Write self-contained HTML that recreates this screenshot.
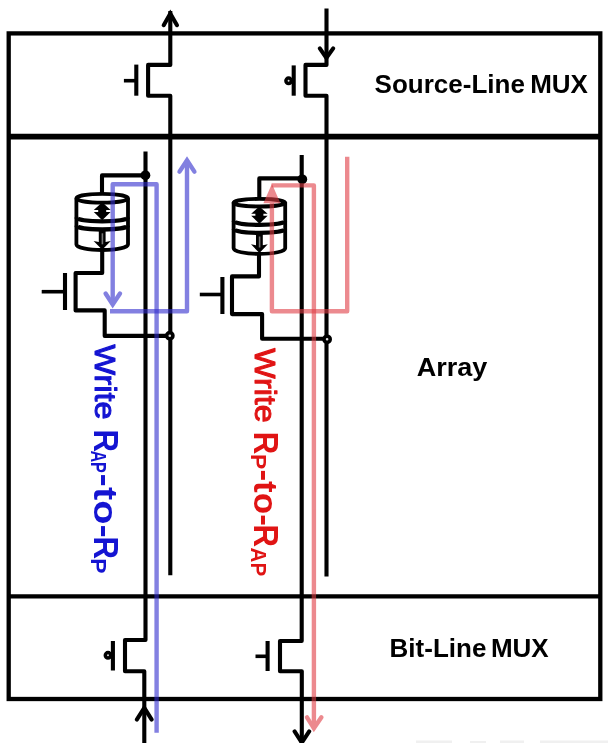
<!DOCTYPE html>
<html>
<head>
<meta charset="utf-8">
<title>STT-MRAM write paths</title>
<style>
  html, body { margin: 0; padding: 0; background: #ffffff; }
  body { width: 608px; height: 743px; overflow: hidden; }
  svg { display: block; filter: blur(0.3px); }
  text { font-family: "Liberation Sans", sans-serif; }
  .k { stroke: #000; fill: none; stroke-width: 4.1; stroke-linecap: butt; stroke-linejoin: round; }
  .b { stroke: rgb(48,44,205); fill: none; stroke-width: 4.4; stroke-linejoin: round; }
  .r { stroke: rgb(224,60,68); fill: none; stroke-width: 4.4; stroke-linejoin: round; }
  .lbl { font-weight: bold; font-size: 26px; fill: #000; }
  #mtj-left .k, #mtj-right .k { stroke-width: 3.8; }
</style>
</head>
<body>
<svg width="608" height="743" viewBox="0 0 608 743">
  <rect x="0" y="0" width="608" height="743" fill="#ffffff"/>

  <!-- ===== outer frame and section dividers ===== -->
  <g id="frame">
    <rect class="k" x="8.7" y="33.4" width="591.6" height="665.6" style="stroke-width:4.3;stroke-linejoin:miter"/>
    <line class="k" x1="8.7" y1="136.6" x2="600.3" y2="136.6" style="stroke-width:5.8"/>
    <line class="k" x1="8.7" y1="596.45" x2="600.3" y2="596.45" style="stroke-width:4.3"/>
  </g>

  <!-- ===== Source-line MUX : left NMOS ===== -->
  <g id="sl-mux-left">
    <path class="k" d="M170.3 11 V64.9 H148.1 V95.7 H170.3 V575.2"/>
    <path class="k" d="M163.7 25.2 L170.3 13.6 L177 25.2" style="stroke-linejoin:miter;stroke-linecap:round"/>
    <line class="k" x1="136.3" y1="64.6" x2="136.3" y2="95.7"/>
    <line class="k" x1="123.9" y1="80.7" x2="136.3" y2="80.7" style="stroke-width:3.6"/>
  </g>

  <!-- ===== Source-line MUX : right PMOS ===== -->
  <g id="sl-mux-right">
    <path class="k" d="M326.5 8.6 V64.9 H305.5 V95.7 H326.5 V576.4"/>
    <path class="k" d="M319.8 48.4 L326.4 58 L333.2 48.4" style="stroke-linejoin:miter;stroke-linecap:round"/>
    <line class="k" x1="293.7" y1="65.4" x2="293.7" y2="95.7"/>
    <circle cx="288.6" cy="80.8" r="2.7" fill="#ddd" stroke="#000" stroke-width="3.5"/>
  </g>

  <!-- ===== Left cell ===== -->
  <g id="cell-left">
    <!-- bit line -->
    <path class="k" d="M145.5 151.4 V640 H125 V671.3 H144.3 V743"/>
    <circle cx="145.4" cy="175.3" r="4.9" fill="#000"/>
    <path class="k" d="M145.5 175.4 H102 V194"/>
    <!-- MTJ -->
    <g id="mtj-left" transform="translate(102.2,198.3)">
      <ellipse class="k" cx="0" cy="0" rx="25.8" ry="4.4"/>
      <path class="k" d="M-25.8 0 V46.1 A25.8 5.6 0 0 0 25.8 46.1 V0"/>
      <path class="k" d="M-25.6 19.3 A25.6 3.8 0 0 0 25.6 19.3" style="stroke-width:4.3"/>
      <path class="k" d="M-25.6 27.4 A25.6 3.8 0 0 0 25.6 27.4" style="stroke-width:4.3"/>
      <!-- double arrow -->
      <path d="M0 4 L8.4 11.6 L4 11.6 L4 13.6 L8.4 13.6 L0 22 L-8.4 13.6 L-4 13.6 L-4 11.6 L-8.4 11.6 Z" fill="#000"/>
      <!-- down arrow -->
      <path d="M-3.4 32 H3.4 V43.6 L8.6 42.6 L0 51.5 L-8.6 42.6 L-3.4 43.6 Z" fill="#000"/>
      <line x1="0.2" y1="35" x2="0.2" y2="46" stroke="#777" stroke-width="1.6"/>
    </g>
    <!-- access transistor -->
    <path class="k" d="M102.2 250 V273 H75.6 V310.4 H104.7 V335.9 H166.5"/>
    <line class="k" x1="65" y1="273" x2="65" y2="310"/>
    <line class="k" x1="41.7" y1="291.7" x2="65" y2="291.7" style="stroke-width:3.6"/>
    <circle cx="169.8" cy="335.7" r="3.1" fill="#ddd" stroke="#000" stroke-width="3.6"/>
  </g>

  <!-- ===== Right cell ===== -->
  <g id="cell-right">
    <path class="k" d="M301.7 155.1 V641 H280 V671.3 H301.8 V743"/>
    <circle cx="302.3" cy="179.3" r="4.9" fill="#000"/>
    <path class="k" d="M302 178.4 H259.3 V199"/>
    <g id="mtj-right" transform="translate(259.4,202.5)">
      <ellipse class="k" cx="0" cy="0.2" rx="25.8" ry="3.8" style="stroke-width:3.9"/>
      <path class="k" d="M-25.8 0 V45.8 A25.8 5.6 0 0 0 25.8 45.8 V0"/>
      <path class="k" d="M-25.6 18.6 A25.6 3.8 0 0 0 25.6 18.6" style="stroke-width:4.3"/>
      <path class="k" d="M-25.6 26.6 A25.6 3.8 0 0 0 25.6 26.6" style="stroke-width:4.3"/>
      <path d="M0 4 L8.2 11.2 L4 11.2 L4 13.2 L8.2 13.2 L0 21.2 L-8.2 13.2 L-4 13.2 L-4 11.2 L-8.2 11.2 Z" fill="#000"/>
      <path d="M-3.4 31 H3.4 V42.8 L8.4 41.8 L0 50.6 L-8.4 41.8 L-3.4 42.8 Z" fill="#000"/>
      <line x1="0.2" y1="34" x2="0.2" y2="45" stroke="#777" stroke-width="1.6"/>
    </g>
    <path class="k" d="M259 254 V276.4 H232 V314.1 H262.1 V338.7 H323.5"/>
    <line class="k" x1="222.4" y1="277" x2="222.4" y2="314"/>
    <line class="k" x1="199.8" y1="294.5" x2="222.4" y2="294.5" style="stroke-width:3.6"/>
    <circle cx="327.1" cy="339.3" r="3.1" fill="#ddd" stroke="#000" stroke-width="3.6"/>
  </g>

  <!-- ===== Bit-line MUX : left PMOS ===== -->
  <g id="bl-mux-left">
    <path class="k" d="M136.8 719.6 L144.3 707.8 L151.7 719.6" style="stroke-linejoin:miter;stroke-linecap:round"/>
    <line class="k" x1="112.9" y1="641" x2="112.9" y2="670.5"/>
    <circle cx="108" cy="655.3" r="2.7" fill="#ddd" stroke="#000" stroke-width="3.5"/>
  </g>

  <!-- ===== Bit-line MUX : right NMOS ===== -->
  <g id="bl-mux-right">
    <path class="k" d="M294.6 731.4 L301.8 742.6 L309.2 731.4" style="stroke-linejoin:miter;stroke-linecap:round"/>
    <line class="k" x1="267.6" y1="641" x2="267.6" y2="671"/>
    <line class="k" x1="255.5" y1="656.3" x2="267.6" y2="656.3" style="stroke-width:3.6"/>
  </g>

  <!-- ===== Blue current path (Write RAP-to-RP) ===== -->
  <g id="blue-path">
    <g opacity="0.6">
      <path class="b" d="M156.6 732.8 V184.2 H112.7 V304.5"/>
      <path class="b" d="M105.6 293.5 L112.7 304.5 L120 293.5" style="stroke-linecap:round;stroke-linejoin:miter"/>
    </g>
    <g opacity="0.6">
      <path class="b" d="M110 311.2 H187 V160.2"/>
      <path class="b" d="M179.5 171.6 L187 160.2 L194.4 171.6" style="stroke-linecap:round;stroke-linejoin:miter"/>
    </g>
  </g>

  <!-- ===== Red current path (Write RP-to-RAP) ===== -->
  <g id="red-path">
    <g opacity="0.6">
      <path class="r" d="M347.2 156.8 V311.3 H271.9 V190"/>
      <path d="M271.9 183.8 L280.4 203.2 L263.4 203.2 Z" fill="rgb(224,60,68)"/>
    </g>
    <g opacity="0.6">
      <path class="r" d="M271.6 185.4 H313.9 V728.3"/>
      <path class="r" d="M307 717.3 L313.9 728.3 L321.4 717.3" style="stroke-linecap:round;stroke-linejoin:miter"/>
    </g>
  </g>

  <!-- ===== Labels ===== -->
  <text class="lbl" x="374.6" y="93">Source-Line</text>
  <text class="lbl" x="530.2" y="93">MUX</text>
  <text class="lbl" x="416.8" y="376.1" textLength="70.6" lengthAdjust="spacingAndGlyphs">Array</text>
  <text class="lbl" x="389.6" y="657">Bit-Line</text>
  <text class="lbl" x="490.9" y="657">MUX</text>

  <!-- rotated blue label -->
  <g id="blue-label" fill="#1414d2">
    <text transform="translate(95.2,344.6) rotate(90)" font-size="29.5" textLength="75" lengthAdjust="spacingAndGlyphs" stroke="#1414d2" stroke-width="1.05" stroke-linejoin="round">Write</text>
    <text transform="translate(94.3,429.4) rotate(90)" font-size="35" font-weight="bold" textLength="22.6" lengthAdjust="spacingAndGlyphs">R</text>
    <text transform="translate(91.2,450.4) rotate(90)" font-size="21.5" font-weight="bold" textLength="22.5" lengthAdjust="spacingAndGlyphs">AP</text>
    <text transform="translate(94.2,473.6) rotate(90)" font-size="33.5" font-weight="bold" textLength="64.3" lengthAdjust="spacingAndGlyphs">-to-</text>
    <text transform="translate(94.3,536.4) rotate(90)" font-size="35" font-weight="bold" textLength="22.6" lengthAdjust="spacingAndGlyphs">R</text>
    <text transform="translate(91.2,558.2) rotate(90)" font-size="21.5" font-weight="bold" textLength="15.2" lengthAdjust="spacingAndGlyphs">P</text>
  </g>

  <!-- rotated red label -->
  <g id="red-label" fill="#e01414">
    <text transform="translate(255.2,348.2) rotate(90)" font-size="29.5" textLength="74.4" lengthAdjust="spacingAndGlyphs" stroke="#e01414" stroke-width="1.05" stroke-linejoin="round">Write</text>
    <text transform="translate(254.3,431.8) rotate(90)" font-size="35" font-weight="bold" textLength="22.6" lengthAdjust="spacingAndGlyphs">R</text>
    <text transform="translate(251,454) rotate(90)" font-size="21.5" font-weight="bold" textLength="15.2" lengthAdjust="spacingAndGlyphs">P</text>
    <text transform="translate(254.2,469.4) rotate(90)" font-size="33.5" font-weight="bold" textLength="56.5" lengthAdjust="spacingAndGlyphs">-to-</text>
    <text transform="translate(254.3,524.4) rotate(90)" font-size="35" font-weight="bold" textLength="22.6" lengthAdjust="spacingAndGlyphs">R</text>
    <text transform="translate(251,547.6) rotate(90)" font-size="21.5" font-weight="bold" textLength="28.6" lengthAdjust="spacingAndGlyphs">AP</text>
  </g>
  <!-- faint cropped watermark remnants at bottom-right -->
  <g id="watermark" fill="#f0f0f0">
    <rect x="416" y="740.5" width="36" height="2.5"/>
    <rect x="470" y="741" width="16" height="2"/>
    <rect x="500" y="740.5" width="24" height="2.5"/>
    <rect x="540" y="740.5" width="68" height="2.5"/>
  </g>
</svg>
</body>
</html>
